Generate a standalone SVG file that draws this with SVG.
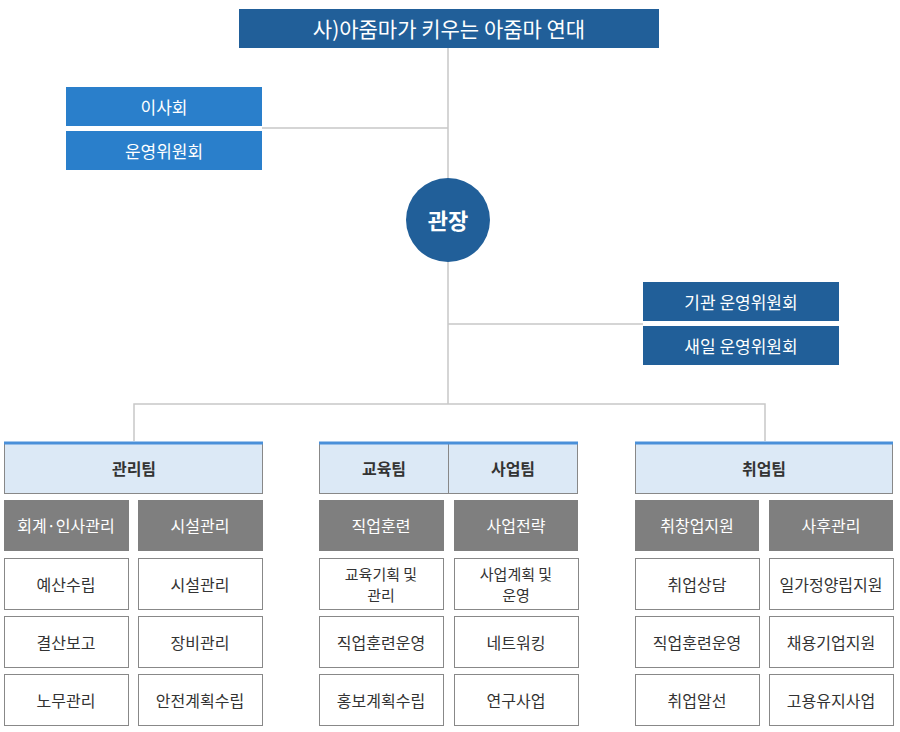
<svg xmlns="http://www.w3.org/2000/svg" width="900" height="732" viewBox="0 0 900 732">
<style>
text{font-family:"Noto Sans CJK KR","Noto Sans",sans-serif;text-anchor:middle;dominant-baseline:central}
.dk{fill:#215f99}.lt{fill:#2a7fcb}
.wt{fill:#fff;font-size:17px}
.hd{fill:#dce9f6;stroke:#888;stroke-width:1}
.hb{stroke:#4a90d9;stroke-width:3}
.ht{fill:#333;font-size:16px;font-weight:bold}
.gr{fill:#7f7f7f}
.gt{fill:#fff;font-size:16px}
.wb{fill:#fff;stroke:#888;stroke-width:1}
.bt{fill:#333;font-size:16px}
.bt2{fill:#333;font-size:15px}
.ln{stroke:#c8c8c8;stroke-width:1.5;fill:none}
</style>
<g id="connectors">
<path class="ln" d="M448 48V404M262 128H448M448 324H643M134 441V404H765V441"/>
</g>
<g id="title"><rect class="dk" x="239" y="9" width="420" height="39"/><text class="wt" x="449" y="28" style="font-size:21px">사)아줌마가 키우는 아줌마 연대</text></g>
<g id="board"><rect class="lt" x="66" y="87" width="196" height="39"/><text class="wt" x="164" y="106">이사회</text></g>
<g id="committee"><rect class="lt" x="66" y="131" width="196" height="39"/><text class="wt" x="164" y="150">운영위원회</text></g>
<g id="director"><circle class="dk" cx="448" cy="220" r="42"/><text x="448" y="219" style="fill:#fff;font-size:22px;font-weight:bold">관장</text></g>
<g id="inst"><rect class="dk" x="643" y="282" width="196" height="39"/><text class="wt" x="741" y="301">기관 운영위원회</text></g>
<g id="saeil"><rect class="dk" x="643" y="326" width="196" height="39"/><text class="wt" x="741" y="345">새일 운영위원회</text></g>
<g id="team-mgmt"><rect class="hd" x="4.5" y="442.5" width="258" height="51"/><path class="hb" d="M4 443H263"/><text class="ht" x="134" y="468">관리팀</text></g>
<g id="team-edu"><rect class="hd" x="319.5" y="442.5" width="129" height="51"/><path class="hb" d="M319 443H448"/><text class="ht" x="384" y="468">교육팀</text></g>
<g id="team-biz"><rect class="hd" x="448.5" y="442.5" width="129" height="51"/><path class="hb" d="M448 443H578"/><text class="ht" x="513" y="468">사업팀</text></g>
<g id="team-job"><rect class="hd" x="635.5" y="442.5" width="257" height="51"/><path class="hb" d="M635 443H893"/><text class="ht" x="764" y="468">취업팀</text></g>
<g id="items">
<rect class="gr" x="4" y="500" width="125" height="51"/><text class="gt" x="66" y="525">회계·인사관리</text>
<rect class="gr" x="138" y="500" width="125" height="51"/><text class="gt" x="200" y="525">시설관리</text>
<rect class="gr" x="319" y="500" width="125" height="51"/><text class="gt" x="381" y="525">직업훈련</text>
<rect class="gr" x="454" y="500" width="124" height="51"/><text class="gt" x="516" y="525">사업전략</text>
<rect class="gr" x="635" y="500" width="124" height="51"/><text class="gt" x="697" y="525">취창업지원</text>
<rect class="gr" x="769" y="500" width="124" height="51"/><text class="gt" x="831" y="525">사후관리</text>

<rect class="wb" x="4.5" y="558.5" width="124" height="51"/><text class="bt" x="66" y="584">예산수립</text>
<rect class="wb" x="138.5" y="558.5" width="124" height="51"/><text class="bt" x="200" y="584">시설관리</text>
<rect class="wb" x="319.5" y="558.5" width="124" height="51"/><text class="bt2" x="381" y="573">교육기획 및</text><text class="bt2" x="381" y="594">관리</text>
<rect class="wb" x="454.5" y="558.5" width="124" height="51"/><text class="bt2" x="516" y="573">사업계획 및</text><text class="bt2" x="516" y="594">운영</text>
<rect class="wb" x="635.5" y="558.5" width="124" height="51"/><text class="bt" x="697" y="584">취업상담</text>
<rect class="wb" x="769.5" y="558.5" width="124" height="51"/><text class="bt" x="831" y="584">일가정양립지원</text>

<rect class="wb" x="4.5" y="616.5" width="124" height="51"/><text class="bt" x="66" y="642">결산보고</text>
<rect class="wb" x="138.5" y="616.5" width="124" height="51"/><text class="bt" x="200" y="642">장비관리</text>
<rect class="wb" x="319.5" y="616.5" width="124" height="51"/><text class="bt" x="381" y="642">직업훈련운영</text>
<rect class="wb" x="454.5" y="616.5" width="124" height="51"/><text class="bt" x="516" y="642">네트워킹</text>
<rect class="wb" x="635.5" y="616.5" width="124" height="51"/><text class="bt" x="697" y="642">직업훈련운영</text>
<rect class="wb" x="769.5" y="616.5" width="124" height="51"/><text class="bt" x="831" y="642">채용기업지원</text>

<rect class="wb" x="4.5" y="674.5" width="124" height="51"/><text class="bt" x="66" y="700">노무관리</text>
<rect class="wb" x="138.5" y="674.5" width="124" height="51"/><text class="bt" x="200" y="700">안전계획수립</text>
<rect class="wb" x="319.5" y="674.5" width="124" height="51"/><text class="bt" x="381" y="700">홍보계획수립</text>
<rect class="wb" x="454.5" y="674.5" width="124" height="51"/><text class="bt" x="516" y="700">연구사업</text>
<rect class="wb" x="635.5" y="674.5" width="124" height="51"/><text class="bt" x="697" y="700">취업알선</text>
<rect class="wb" x="769.5" y="674.5" width="124" height="51"/><text class="bt" x="831" y="700">고용유지사업</text>
</g>
</svg>
